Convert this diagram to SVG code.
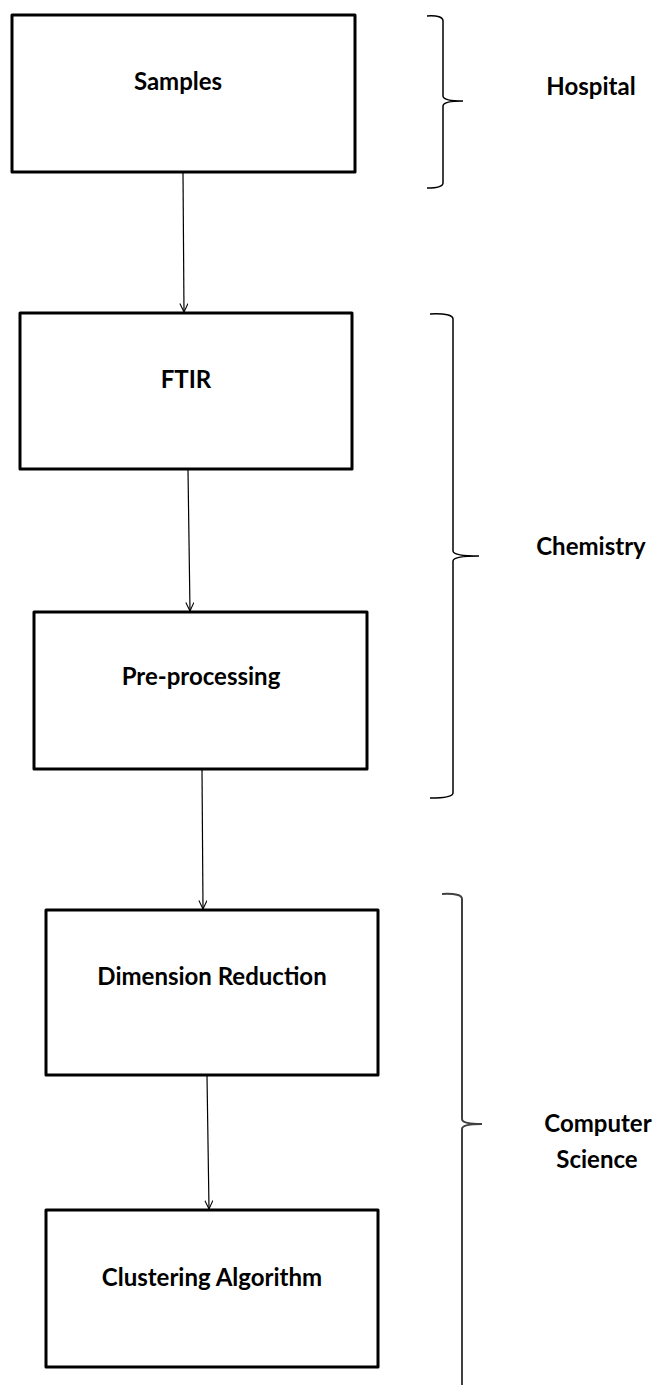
<svg xmlns="http://www.w3.org/2000/svg" width="659" height="1385" viewBox="0 0 659 1385">
<defs>
<style>
.box{fill:#fff;stroke:#000;stroke-width:3;stroke-linejoin:round}
.lbl{font-family:Lato,"Liberation Sans",sans-serif;font-weight:bold;font-size:24px;fill:#000;text-anchor:middle}
.conn{stroke:#000;stroke-width:1.2;fill:none}
.brace{fill:none;stroke:#000;stroke-width:1.5}
</style>
<marker id="arr" viewBox="0 0 10 10" refX="9.5" refY="5" markerWidth="9" markerHeight="9" markerUnits="userSpaceOnUse" orient="auto">
<path d="M0,0.5 L9.5,5 L0,9.5" fill="none" stroke="#000" stroke-width="1.2"/>
</marker>
</defs>
<rect width="659" height="1385" fill="#fff"/>
<g id="connectors">
<line class="conn" x1="183" y1="173" x2="184" y2="312" marker-end="url(#arr)"/>
<line class="conn" x1="188" y1="470" x2="190" y2="611" marker-end="url(#arr)"/>
<line class="conn" x1="202" y1="770" x2="203" y2="909" marker-end="url(#arr)"/>
<line class="conn" x1="207" y1="1076" x2="209" y2="1209" marker-end="url(#arr)"/>
</g>
<g id="samples">
<rect class="box" x="12" y="15" width="343" height="157"/>
<text class="lbl" x="178" y="90">Samples</text>
</g>
<g id="ftir">
<rect class="box" x="20" y="313" width="332" height="156"/>
<text class="lbl" x="186" y="388">FTIR</text>
</g>
<g id="preprocessing">
<rect class="box" x="34" y="612" width="333" height="157"/>
<text class="lbl" x="201" y="685">Pre-processing</text>
</g>
<g id="dimension">
<rect class="box" x="46" y="910" width="332" height="165"/>
<text class="lbl" x="212" y="985">Dimension Reduction</text>
</g>
<g id="clustering">
<rect class="box" x="46" y="1210" width="332" height="157"/>
<text class="lbl" x="212" y="1286">Clustering Algorithm</text>
</g>
<g id="hospital">
<path class="brace" d="M427,16 Q443,15 443,21 L443,96 Q443,101 463,101 Q443,101 443,106 L443,183 Q443,188 427,188"/>
<text class="lbl" x="591" y="95">Hospital</text>
</g>
<g id="chemistry">
<path class="brace" d="M430,314 Q453,313 453,319 L453,551 Q453,556 479,556 Q453,556 453,561 L453,793 Q453,798 430,798"/>
<text class="lbl" x="591" y="555">Chemistry</text>
</g>
<g id="computerscience">
<path class="brace" style="stroke:#404040;stroke-width:2" d="M442,894 Q462,893 462,899 L462,1119 Q462,1124 482,1124 Q462,1124 462,1129 L462,1385"/>
<text class="lbl" x="598" y="1132">Computer</text>
<text class="lbl" x="597" y="1168">Science</text>
</g>
</svg>
